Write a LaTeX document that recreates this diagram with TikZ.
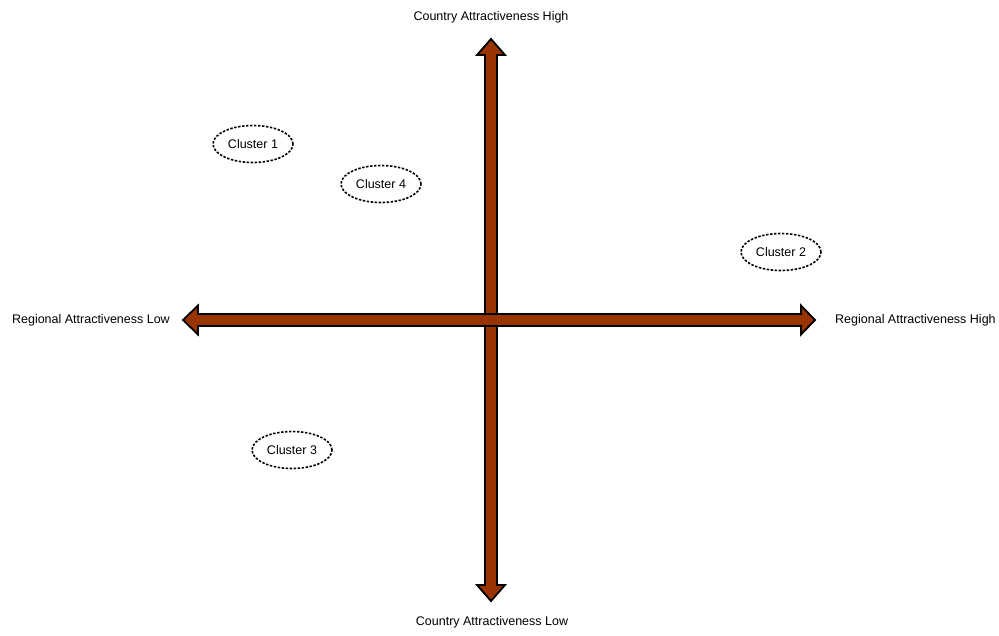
\documentclass[tikz,border=0pt]{standalone}
\usepackage{fontspec}
\setmainfont{Liberation Sans}
\usetikzlibrary{shapes.geometric}
\definecolor{axisbrown}{HTML}{993300}
\begin{document}
\begin{tikzpicture}[x=1pt,y=-1pt,
  axisarrow/.style={draw=black,line width=1.8pt,fill=axisbrown,line join=miter},
  cluster/.style={ellipse,draw=black,line width=1.6pt,dash pattern=on 2.4pt off 1.6pt,minimum width=80pt,minimum height=37pt,inner sep=0pt,font=\fontsize{12.5}{14}\selectfont},
  axislabel/.style={font=\fontsize{12.5}{14}\selectfont,inner sep=0pt}]
\useasboundingbox (0,0) rectangle (999,635);
% vertical axis arrow
\draw[axisarrow] (491,39) -- (505,55) -- (497,55) -- (497,585) -- (505,585) -- (491,601) -- (477,585) -- (485,585) -- (485,55) -- (477,55) -- cycle;
% horizontal axis arrow
\draw[axisarrow] (183,320) -- (198,305.5) -- (198,314) -- (801,314) -- (801,305.5) -- (815,320) -- (801,334.5) -- (801,326) -- (198,326) -- (198,334.5) -- cycle;
% labels
\node[axislabel] (chigh) at (491,17) {Country Attractiveness High};
\node[axislabel] (clow) at (492,622) {Country Attractiveness Low};
\node[axislabel,anchor=east] (rlow) at (170,320) {Regional Attractiveness Low};
\node[axislabel,anchor=west] (rhigh) at (835,320) {Regional Attractiveness High};
% clusters
\node[cluster] (c1) at (253,144) {Cluster 1};
\node[cluster] (c4) at (381,184) {Cluster 4};
\node[cluster] (c2) at (781,252) {Cluster 2};
\node[cluster] (c3) at (292,450) {Cluster 3};
\end{tikzpicture}
\end{document}
